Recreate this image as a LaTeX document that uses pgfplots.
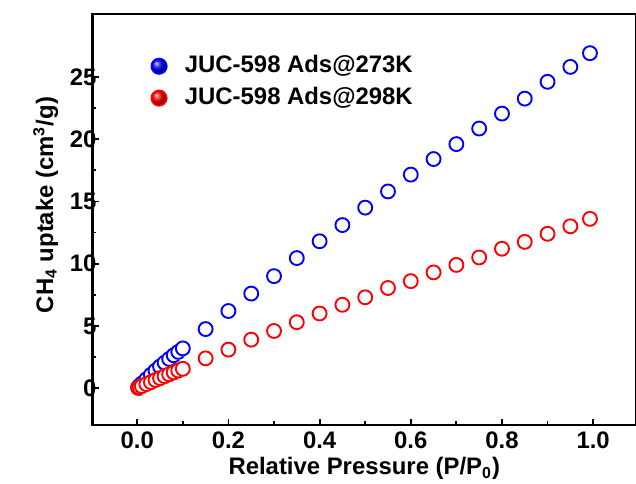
\documentclass[border=0pt]{standalone}
\usepackage{pgfplots}
\pgfplotsset{compat=1.18}
\usepackage{fontspec}
\setmainfont{Liberation Sans}
\pgfdeclareplotmark{ring}{%
  \pgfpathcircle{\pgfqpoint{0.8pt}{-0.6pt}}{\pgfplotmarksize}%
  \pgfusepathqfill
  \pgfpathcircle{\pgfpointorigin}{\pgfplotmarksize}%
  \pgfsetfillcolor{white}%
  \pgfusepathqfillstroke
}
\begin{document}
\begin{tikzpicture}
\begin{axis}[
  scale only axis,
  width=273pt, height=206.5pt,
  xmin=-0.098, xmax=1.094,
  ymin=-2.95, ymax=30.05,
  xtick={0,0.2,0.4,0.6,0.8,1.0},
  ytick={0,5,10,15,20,25},
  minor x tick num=1, minor y tick num=1,
  tick pos=left,
  tick align=inside,
  major tick length=3pt, minor tick length=1.8pt,
  every tick/.style={black, line width=0.9pt},
  axis line style={line width=1.3pt},
  /pgf/number format/assume math mode=true,
  x tick label style={/pgf/number format/.cd, fixed, fixed zerofill, precision=1},
  y tick label style={xshift=5.5pt},
  tick label style={font=\fontsize{12}{14}\selectfont\bfseries},
  label style={font=\fontsize{12}{14}\selectfont\bfseries},
  xlabel={Relative Pressure (P/P\textsubscript{0})},
  ylabel={CH\textsubscript{4} uptake (cm\textsuperscript{3}/g)},
  xlabel style={at={(axis description cs:0.5,0)}, anchor=center, yshift=-22pt},
  ylabel style={at={(axis description cs:0,0.535)}, anchor=center, yshift=23.5pt},
  legend style={at={(axis description cs:0.106,0.91)}, anchor=north west, draw=none, fill=none,
    inner sep=0pt,
    font=\fontsize{12}{14}\selectfont\bfseries, row sep=1pt,
    nodes={text height=9pt, text depth=3pt, inner sep=1.5pt}},
  legend cell align=left,
]
\addplot[only marks, mark=ring, mark size=3.5pt, line width=0.95pt, draw=blue, fill=blue,
  legend image code/.code={\path[draw=none,fill=none] (-4pt,-4pt) rectangle (11.5pt,4pt);\shade[ball color=blue] (0pt,0pt) circle (3.8pt);}]
coordinates {
(0.002,0.08) (0.005,0.2) (0.01,0.38) (0.02,0.72) (0.03,1.08) (0.04,1.42)
(0.05,1.75) (0.06,2.05) (0.07,2.35) (0.08,2.65) (0.09,2.92) (0.1,3.2)
(0.15,4.75) (0.2,6.2) (0.25,7.6) (0.3,9.0) (0.35,10.45) (0.4,11.8)
(0.45,13.1) (0.5,14.5) (0.55,15.8) (0.6,17.15) (0.65,18.4) (0.7,19.6)
(0.75,20.85) (0.8,22.05) (0.85,23.25) (0.9,24.6) (0.95,25.8) (0.993,26.9)
};
\addlegendentry{JUC-598 Ads@273K}
\addplot[only marks, mark=ring, mark size=3.5pt, line width=0.95pt, draw=red, fill=red,
  legend image code/.code={\path[draw=none,fill=none] (-4pt,-4pt) rectangle (11.5pt,4pt);\shade[ball color=red] (0pt,0pt) circle (3.8pt);}]
coordinates {
(0.002,0.03) (0.005,0.08) (0.01,0.17) (0.02,0.33) (0.03,0.49) (0.04,0.66)
(0.05,0.81) (0.06,0.97) (0.07,1.12) (0.08,1.27) (0.09,1.42) (0.1,1.56)
(0.15,2.4) (0.2,3.1) (0.25,3.9) (0.3,4.6) (0.35,5.3) (0.4,6.0)
(0.45,6.7) (0.5,7.3) (0.55,8.05) (0.6,8.6) (0.65,9.3) (0.7,9.9)
(0.75,10.5) (0.8,11.2) (0.85,11.75) (0.9,12.4) (0.95,13.0) (0.993,13.6)
};
\addlegendentry{JUC-598 Ads@298K}
\end{axis}
\pgfresetboundingbox
\path (current axis.south west) ++(-46.5pt,-29.5pt) coordinate (bbsw);
\path (current axis.north east) ++(-1.5pt,7pt) coordinate (bbne);
\useasboundingbox (bbsw) rectangle (bbne);
\end{tikzpicture}
\end{document}
